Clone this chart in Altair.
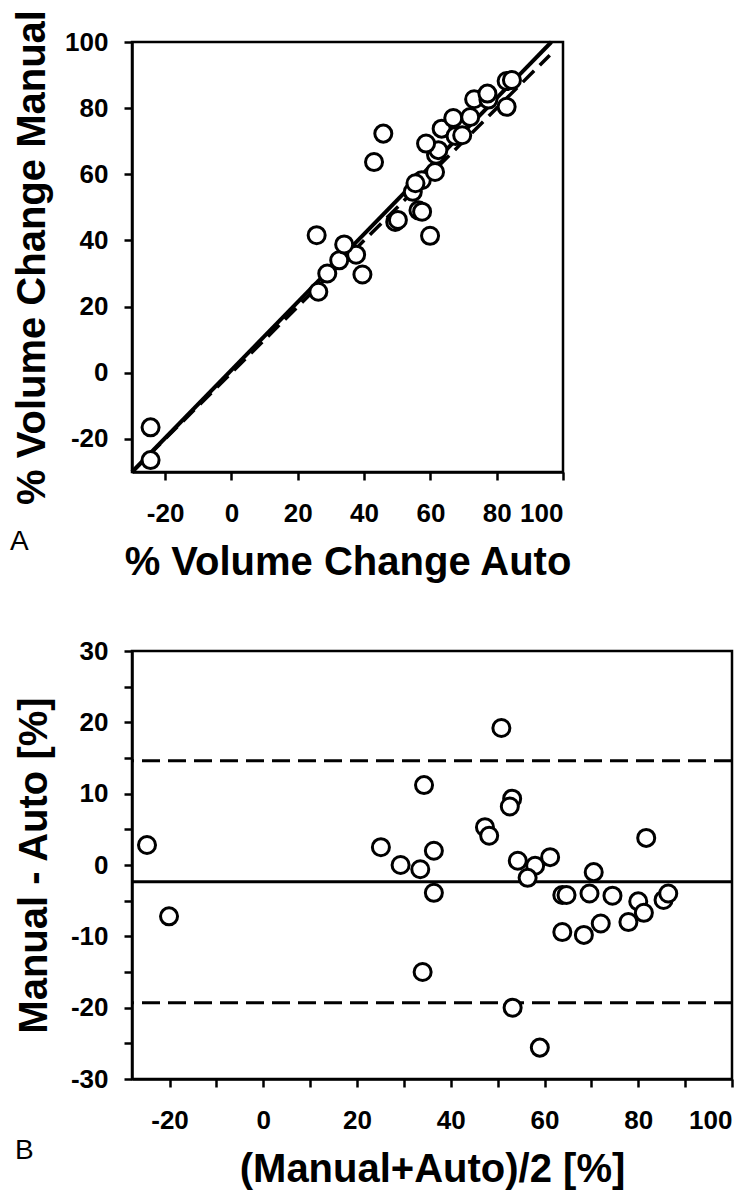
import altair as alt
import pandas as pd

# ---------------- Panel A data: % volume change, manual vs auto ----------------
auto_pct = [-24.4, -24.4, 26.2, 28.9, 32.5, 37.6, 34.0, 39.5, 25.7, 49.4, 50.2,
            56.4, 57.5, 54.7, 57.4, 55.5, 61.4, 61.7, 62.4, 58.7, 63.4, 67.6,
            69.6, 66.9, 72.0, 73.2, 77.5, 77.2, 83.0, 83.0, 84.6, 59.9, 43.0, 45.8]
manual_pct = [-16.5, -26.4, 24.5, 30.0, 34.0, 35.7, 38.8, 29.7, 41.6, 45.6, 46.2,
              49.1, 48.7, 54.7, 58.2, 57.3, 60.7, 65.9, 67.3, 69.3, 73.8, 71.6,
              71.8, 77.0, 77.3, 82.7, 82.6, 84.4, 80.4, 88.2, 88.5, 41.4, 63.7, 72.3]

fit_x = [-30, 96.5]
fit_y = [-30, 100]
identity_x = [-30, 96]
identity_y = [-30, 96]

# ---------------- Panel B data: Bland-Altman ----------------
ba_mean = [-24.8, -20.1, 25.1, 29.3, 33.5, 36.4, 36.4, 34.3, 34.0, 47.3, 48.2,
           53.1, 52.6, 54.3, 58.0, 56.4, 61.2, 63.8, 64.7, 63.8, 68.4, 69.6,
           70.5, 72.0, 74.5, 77.9, 80.0, 81.2, 81.7, 85.4, 86.4, 50.8, 53.2, 59.0]
ba_diff = [2.8, -7.2, 2.5, 0.0, -0.6, 2.0, -3.9, 11.2, -15.0, 5.3, 4.1,
           9.3, 8.2, 0.6, -0.1, -1.8, 1.1, -4.2, -4.2, -9.4, -9.8, -4.0,
           -1.0, -8.2, -4.3, -8.0, -5.1, -6.7, 3.8, -4.9, -4.0, 19.2, -20.0, -25.6]
bias = [-2.35]
limits = [14.6, -19.3]

top_ticks = [-20, 0, 20, 40, 60, 80, 100]
bx_ticks = [-20, -10, 0, 10, 20, 30, 40, 50, 60, 70, 80, 90, 100]
by_ticks = [-30, -25, -20, -15, -10, -5, 0, 5, 10, 15, 20, 25, 30]

FONT = "Liberation Sans"

pts_a = pd.DataFrame({"auto": auto_pct, "manual": manual_pct})
fit_df = pd.DataFrame({"auto": fit_x, "manual": fit_y})
id_df = pd.DataFrame({"auto": identity_x, "manual": identity_y})

xa = alt.X("auto:Q", scale=alt.Scale(domain=[-30, 100], nice=False, zero=False),
           axis=alt.Axis(values=top_ticks, title="% Volume Change Auto",
                         labelExpr="toString(datum.value)", labelPadding=20,
                         titlePadding=16))
ya = alt.Y("manual:Q", scale=alt.Scale(domain=[-30, 100], nice=False, zero=False),
           axis=alt.Axis(values=top_ticks, title="% Volume Change Manual",
                         labelExpr="toString(datum.value)", labelPadding=16,
                         titlePadding=12))

line_id = alt.Chart(id_df).mark_line(color="black", strokeWidth=3.5,
                                     strokeDash=[16, 8]).encode(x=xa, y=ya)
line_fit = alt.Chart(fit_df).mark_line(color="black", strokeWidth=4).encode(x=xa, y=ya)
circ_a = alt.Chart(pts_a).mark_circle(fill="white", stroke="black", strokeWidth=3,
                                      size=290, opacity=1).encode(x=xa, y=ya)
lab_a = alt.Chart(pd.DataFrame({"t": ["A"]})).mark_text(
    font=FONT, fontSize=28, align="left", baseline="alphabetic", color="black"
).encode(x=alt.value(-122), y=alt.value(508), text="t:N")

top = alt.layer(line_id, line_fit, circ_a, lab_a).properties(width=431, height=430)

# ---------------- Panel B ----------------
pts_b = pd.DataFrame({"m": ba_mean, "d": ba_diff})
bias_df = pd.DataFrame({"d": bias})
lim_df = pd.DataFrame({"d": limits})

xb = alt.X("m:Q", scale=alt.Scale(domain=[-28, 100], nice=False, zero=False),
           axis=alt.Axis(values=bx_ticks, title="(Manual+Auto)/2 [%]",
                         labelExpr="datum.value % 20 == 0 ? toString(datum.value) : ''",
                         labelPadding=20, titlePadding=16))
yb = alt.Y("d:Q", scale=alt.Scale(domain=[-30, 30], nice=False, zero=False),
           axis=alt.Axis(values=by_ticks, title="Manual - Auto [%]",
                         labelExpr="datum.value % 10 == 0 ? toString(datum.value) : ''",
                         labelPadding=16, titlePadding=16))

rule_bias = alt.Chart(bias_df).mark_rule(color="black", strokeWidth=3).encode(y=yb)
rule_lim = alt.Chart(lim_df).mark_rule(color="black", strokeWidth=3,
                                       strokeDash=[18, 8]).encode(y=yb)
circ_b = alt.Chart(pts_b).mark_circle(fill="white", stroke="black", strokeWidth=3,
                                      size=290, opacity=1).encode(x=xb, y=yb)
lab_b = alt.Chart(pd.DataFrame({"t": ["B"]})).mark_text(
    font=FONT, fontSize=28, align="left", baseline="alphabetic", color="black"
).encode(x=alt.value(-117), y=alt.value(508), text="t:N")

bottom = alt.layer(rule_lim, rule_bias, circ_b, lab_b).properties(width=600, height=428)

chart = alt.vconcat(top, bottom, spacing=52).properties(
    padding={"left": 0, "top": 0, "right": 0, "bottom": 0},
    background="white"
).configure_view(
    stroke="black", strokeWidth=2.5
).configure_axis(
    domainColor="black", domainWidth=2.5, tickColor="black", tickWidth=2.5,
    tickSize=8, grid=False, labelFont=FONT, labelFontSize=26,
    labelFontWeight="bold", labelColor="black", titleFont=FONT,
    titleFontSize=40, titleFontWeight="bold", titleColor="black",
    labelOverlap=False
)

chart.save("out.html", embed_options={"renderer": "svg", "actions": False})
